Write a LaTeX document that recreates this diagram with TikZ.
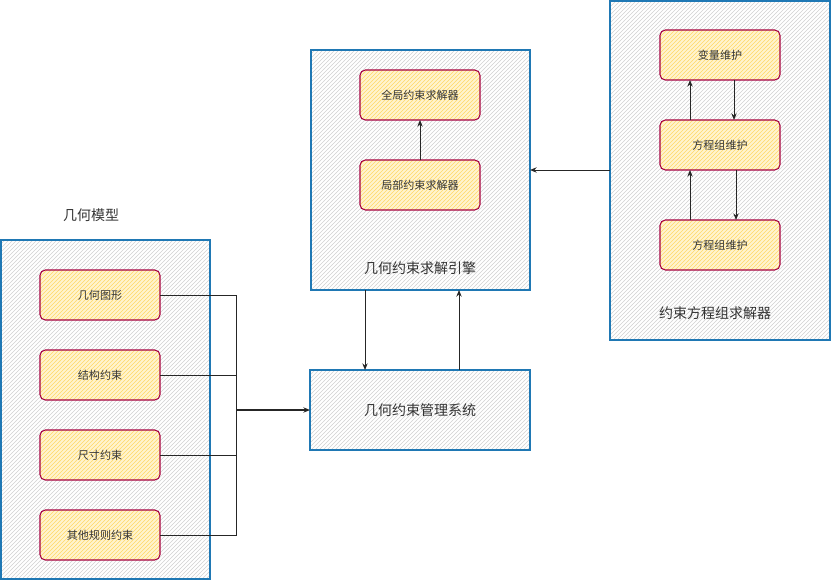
\documentclass[tikz,border=0pt]{standalone}
\usepackage{fontspec}
\setmainfont{Noto Sans CJK SC}
\usetikzlibrary{patterns,arrows.meta}
\definecolor{cblue}{HTML}{1F78B4}
\definecolor{cred}{HTML}{A50040}
\definecolor{cyel}{HTML}{FFD966}
\definecolor{cyelbg}{HTML}{FFF4CF}
\definecolor{ctext}{HTML}{333333}
\tikzset{
  container/.style={draw=cblue, line width=0.8pt, preaction={fill=white}, pattern=north east lines, pattern color=black!18},
  item/.style={draw=cred, line width=0.8pt, rounded corners=4pt, preaction={fill=cyelbg}, pattern=north east lines, pattern color=cyel},
  itemtext/.style={font=\fontsize{8.3}{10}\selectfont, text=ctext},
  bigtext/.style={font=\fontsize{10.5}{12}\selectfont, text=ctext},
  arr/.style={-{Stealth[length=5pt,width=4pt]}, line width=0.7pt, black!85},
  conn/.style={line width=0.7pt, black!85},
}
\begin{document}
\begin{tikzpicture}[x=0.75pt,y=-0.75pt]
\useasboundingbox (0,0) rectangle (831,581);
% left container
\draw[container] (1,240) rectangle (210,579);
\node[bigtext] (lt) at (91,215) {几何模型};
\draw[item] (40,270) rectangle (160,320); \node[itemtext] (g1) at (100,295) {几何图形};
\draw[item] (40,350) rectangle (160,400); \node[itemtext] (g2) at (100,375) {结构约束};
\draw[item] (40,430) rectangle (160,480); \node[itemtext] (g3) at (100,455) {尺寸约束};
\draw[item] (40,510) rectangle (160,560); \node[itemtext] (g4) at (100,535) {其他规则约束};
\coordinate (g1r) at (160,295);
\coordinate (g2r) at (160,375);
\coordinate (g3r) at (160,455);
\coordinate (g4r) at (160,535);
\coordinate (jn) at (236,410);
% mgmt
\draw[container] (310,370) rectangle (530,450);
\node[bigtext] (mg) at (420,410) {几何约束管理系统};
\coordinate (mgl) at (310,410);
\draw[conn] (g1r) -| (jn);
\draw[conn] (g2r) -| (jn);
\draw[conn] (g3r) -| (jn);
\draw[conn] (g4r) -| (jn);
\draw[arr, line width=1.4pt] (jn) -- (mgl);
% engine
\draw[container] (311,50) rectangle (530,290);
\node[bigtext] (en) at (420,268) {几何约束求解引擎};
\draw[item] (360,70) rectangle (480,120); \node[itemtext] (gs) at (420,95) {全局约束求解器};
\draw[item] (360,160) rectangle (480,210); \node[itemtext] (ls) at (420,185) {局部约束求解器};
\draw[arr] (420,160) -- (420,120);
\draw[arr] (365,290) -- (365,370);
\draw[arr] (459,370) -- (459,290);
% right container
\draw[container] (610,1) rectangle (830,340);
\node[bigtext] (rs) at (715,313) {约束方程组求解器};
\draw[item] (660,30) rectangle (780,80); \node[itemtext] (v1) at (720,55) {变量维护};
\draw[item] (660,120) rectangle (780,170); \node[itemtext] (v2) at (720,145) {方程组维护};
\draw[item] (660,220) rectangle (780,270); \node[itemtext] (v3) at (720,245) {方程组维护};
\draw[arr] (690,120) -- (690,80);
\draw[arr] (734,80) -- (734,120);
\draw[arr] (690,220) -- (690,170);
\draw[arr] (736,170) -- (736,220);
\draw[arr] (610,170) -- (530,170);
\end{tikzpicture}
\end{document}
